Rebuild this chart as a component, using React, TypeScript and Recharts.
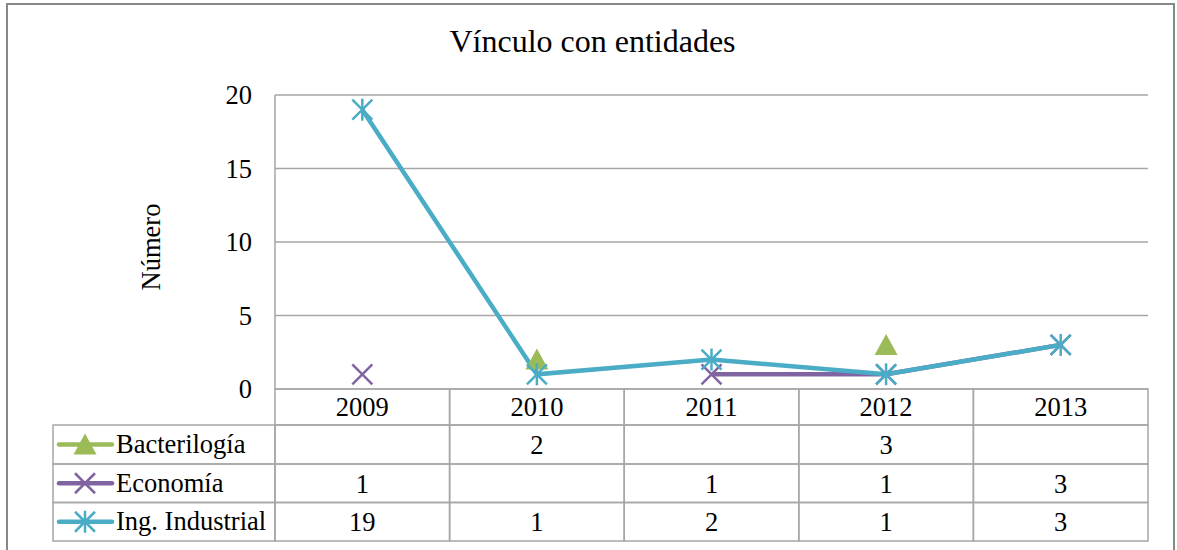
import { CartesianGrid, Line, LineChart, XAxis, YAxis } from "recharts";

const years = ["2009", "2010", "2011", "2012", "2013"];
const bacteriologia = [null, 2, null, 3, null];
const economia = [1, null, 1, 1, 3];
const ingIndustrial = [19, 1, 2, 1, 3];
const yTicks = [0, 5, 10, 15, 20];

const FONT = "'Liberation Serif', 'Times New Roman', serif";
const GRID = "#a6a6a6";
const PLOT_LEFT = 275;
const PLOT_RIGHT = 1148;
const BAND = (PLOT_RIGHT - PLOT_LEFT) / years.length;
const ROWS = [389, 425, 464, 502.5, 541];
const TABLE_LEFT = 53;
const textStyle = { fontFamily: FONT, fontSize: 26.5 };

const series = [
  { key: "bact", name: "Bacterilogía", color: "#9BBB59", values: bacteriologia, marker: "triangle" },
  { key: "eco", name: "Economía", color: "#8064A2", values: economia, marker: "x" },
  { key: "ing", name: "Ing. Industrial", color: "#4BACC6", values: ingIndustrial, marker: "star" },
];

const data = years.map((year, i) => ({
  year,
  bact: bacteriologia[i],
  eco: economia[i],
  ing: ingIndustrial[i],
}));

const Marker = ({ type, cx, cy, color }) => {
  if (type === "triangle") {
    return (
      <polygon
        points={`${cx},${cy - 11} ${cx - 11.5},${cy + 10} ${cx + 11.5},${cy + 10}`}
        fill={color}
      />
    );
  }
  if (type === "x") {
    return (
      <g stroke={color} strokeWidth={2.5}>
        <line x1={cx - 10} y1={cy - 10} x2={cx + 10} y2={cy + 10} />
        <line x1={cx - 10} y1={cy + 10} x2={cx + 10} y2={cy - 10} />
      </g>
    );
  }
  return (
    <g stroke={color} strokeWidth={2.5}>
      <line x1={cx} y1={cy - 11} x2={cx} y2={cy + 11} />
      <line x1={cx - 10} y1={cy - 10} x2={cx + 10} y2={cy + 10} />
      <line x1={cx - 10} y1={cy + 10} x2={cx + 10} y2={cy - 10} />
    </g>
  );
};

const rowMid = (r) => (ROWS[r] + ROWS[r + 1]) / 2;

const TableTick = (props) => {
  const { x, payload } = props;
  const i = years.indexOf(String(payload.value));
  const left = x - BAND / 2;
  return (
    <g>
      {[0, 1, 2, 3].map((r) => (
        <rect
          key={r}
          x={left}
          y={ROWS[r]}
          width={BAND}
          height={ROWS[r + 1] - ROWS[r]}
          fill="none"
          stroke={GRID}
          strokeWidth={1.5}
        />
      ))}
      <text x={x} y={rowMid(0)} dy="0.35em" textAnchor="middle" fill="#000" style={textStyle}>
        {years[i]}
      </text>
      {series.map((s, r) =>
        s.values[i] == null ? null : (
          <text
            key={s.key}
            x={x}
            y={rowMid(r + 1)}
            dy="0.35em"
            textAnchor="middle"
            fill="#000"
            style={textStyle}
          >
            {s.values[i]}
          </text>
        )
      )}
      {i === 0 &&
        series.map((s, r) => {
          const cy = rowMid(r + 1);
          return (
            <g key={"leg" + s.key}>
              <rect
                x={TABLE_LEFT}
                y={ROWS[r + 1]}
                width={PLOT_LEFT - TABLE_LEFT}
                height={ROWS[r + 2] - ROWS[r + 1]}
                fill="none"
                stroke={GRID}
                strokeWidth={1.5}
              />
              <line x1={59} y1={cy} x2={112} y2={cy} stroke={s.color} strokeWidth={4.5} strokeLinecap="round" />
              <Marker type={s.marker} cx={85} cy={cy} color={s.color} />
              <text x={116} y={cy} dy="0.33em" textAnchor="start" fill="#000" style={textStyle}>
                {s.name}
              </text>
            </g>
          );
        })}
    </g>
  );
};

export default function App() {
  return (
    <div
      style={{
        position: "absolute",
        left: 0,
        top: 0,
        width: 1177,
        height: 550,
        overflow: "hidden",
        background: "#fff",
        fontFamily: FONT,
      }}
    >
      <div
        style={{
          position: "absolute",
          left: 6,
          top: 3,
          width: 1165,
          height: 600,
          border: "2px solid #888",
        }}
      />
      <div
        style={{
          position: "absolute",
          left: 0,
          top: 25,
          width: 1185,
          textAlign: "center",
          fontSize: 32,
          lineHeight: "32px",
          color: "#000",
        }}
      >
        Vínculo con entidades
      </div>
      <div
        style={{
          position: "absolute",
          left: 151,
          top: 247,
          transform: "translate(-50%, -50%) rotate(-90deg)",
          fontSize: 26.5,
          lineHeight: "26px",
          whiteSpace: "nowrap",
          color: "#000",
        }}
      >
        Número
      </div>
      <div style={{ position: "absolute", left: 0, top: 0 }}>
        <LineChart
          width={1177}
          height={550}
          data={data}
          margin={{ top: 95, right: 29, bottom: 9, left: 195 }}
          style={{ fontFamily: FONT }}
        >
          <CartesianGrid vertical={false} stroke={GRID} strokeWidth={1.5} />
          <XAxis
            dataKey="year"
            height={152}
            axisLine={false}
            tickLine={false}
            interval={0}
            padding={{ left: BAND / 2, right: BAND / 2 }}
            tick={(p) => <TableTick key={p.index} {...p} />}
          />
          <YAxis
            width={80}
            domain={[0, 20]}
            ticks={yTicks}
            stroke={GRID}
            strokeWidth={1.5}
            tickLine={false}
            tickSize={0}
            tickMargin={23}
            tick={{ fontSize: 26.5, fill: "#000", fontFamily: FONT, style: { fontFamily: FONT } }}
          />
          {series.map((s) => (
            <Line
              key={s.key}
              dataKey={s.key}
              name={s.name}
              stroke={s.color}
              strokeWidth={4.5}
              connectNulls={false}
              isAnimationActive={false}
              dot={(p) =>
                p.value == null || p.cy == null ? (
                  <g key={s.key + p.index} />
                ) : (
                  <Marker key={s.key + p.index} type={s.marker} cx={p.cx} cy={p.cy} color={s.color} />
                )
              }
              activeDot={false}
            />
          ))}
        </LineChart>
      </div>
    </div>
  );
}
